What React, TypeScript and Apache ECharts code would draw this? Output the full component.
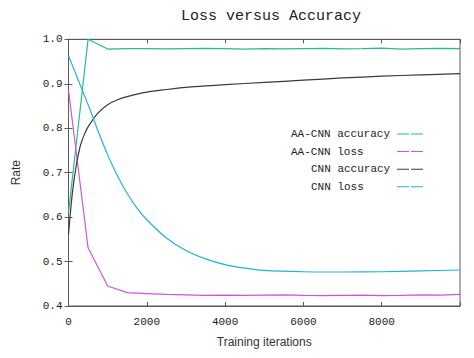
import React, { useEffect, useRef } from "react";
import * as echarts from "echarts";

const titleText = "Loss versus Accuracy";
const seriesNames = ["AA-CNN accuracy", "AA-CNN loss", "CNN accuracy", "CNN loss"];

const aaIters = [0, 500, 1000, 1500, 2000, 2500, 3000, 3500, 4000, 4500, 5000, 5500, 6000, 6500, 7000, 7500, 8000, 8500, 9000, 9500, 10000];
const aaAccuracy = [0.61, 1.0, 0.978, 0.979, 0.979, 0.9785, 0.979, 0.9795, 0.979, 0.978, 0.979, 0.9785, 0.979, 0.9795, 0.9785, 0.979, 0.98, 0.978, 0.979, 0.9795, 0.979];
const aaLoss = [0.886, 0.531, 0.445, 0.43, 0.428, 0.426, 0.425, 0.424, 0.4245, 0.424, 0.4245, 0.425, 0.424, 0.4235, 0.424, 0.4245, 0.4235, 0.424, 0.425, 0.4245, 0.426];

const cnnAccIters = [0, 100, 200, 300, 400, 500, 750, 1000, 1250, 1500, 2000, 2500, 3000, 3500, 4000, 5000, 6000, 7000, 8000, 9000, 10000];
const cnnAccuracy = [0.561, 0.655, 0.717, 0.76, 0.785, 0.803, 0.834, 0.853, 0.864, 0.871, 0.881, 0.887, 0.892, 0.895, 0.898, 0.903, 0.908, 0.913, 0.917, 0.92, 0.923];

const cnnLossIters = [0, 250, 500, 750, 1000, 1250, 1500, 1750, 2000, 2500, 3000, 3500, 4000, 4500, 5000, 6000, 7000, 8000, 9000, 10000];
const cnnLoss = [0.963, 0.908, 0.853, 0.795, 0.74, 0.693, 0.653, 0.62, 0.594, 0.553, 0.525, 0.506, 0.493, 0.485, 0.48, 0.477, 0.4765, 0.477, 0.479, 0.481];

const xTicks = { min: 0, max: 10000, interval: 2000 };
const yTicks = { min: 0.4, max: 1.0, interval: 0.1 };

const colors = ["#26b99a", "#cc55dd", "#3a3a3a", "#1fb4d8"];

const zip = (xs: number[], ys: number[]) => xs.map((x, i) => [x, ys[i]]);

export default function App() {
  const ref = useRef<HTMLDivElement>(null);
  useEffect(() => {
    if (!ref.current) return;
    const chart = echarts.init(ref.current, undefined, { renderer: "svg" });
    const mono = "Liberation Mono";
    const frame = "#5a5a5a";
    const tickStyle = { show: true, inside: true, length: 4, lineStyle: { color: frame, width: 1 } };
    const legendIcon = "path://M0,0H12V1H0Z M14,0H26V1H14Z";
    const series = [
      { data: zip(aaIters, aaAccuracy) },
      { data: zip(aaIters, aaLoss) },
      { data: zip(cnnAccIters, cnnAccuracy) },
      { data: zip(cnnLossIters, cnnLoss) },
    ].map((s, i) => ({
      type: "line",
      name: seriesNames[i],
      data: s.data,
      showSymbol: false,
      symbol: "none",
      smooth: i >= 2 ? 0.3 : false,
      lineStyle: { color: colors[i], width: 1.2 },
      itemStyle: { color: colors[i] },
      xAxisIndex: 0,
      yAxisIndex: 0,
    }));
    const legendText = { fontFamily: mono, fontSize: 11, color: "#222", height: 14, lineHeight: 14, align: "left" };
    chart.setOption({
      animation: false,
      backgroundColor: "#ffffff",
      title: {
        text: titleText,
        left: 181,
        top: 9,
        padding: 0,
        textStyle: { fontFamily: mono, fontSize: 15, fontWeight: "normal", color: "#222" },
      },
      legend: {
        orient: "vertical",
        align: "right",
        right: 51,
        top: 127,
        padding: 0,
        itemGap: 3.6,
        itemWidth: 26,
        itemHeight: 2,
        icon: legendIcon,
        data: seriesNames.map((n) => ({ name: n, icon: legendIcon })),
        formatter: (name: string) =>
          name.startsWith("AA-") ? `{a|${name}}` : `{s| }{c|${name}}`,
        textStyle: {
          ...legendText,
          rich: {
            a: { ...legendText, width: 101 },
            s: { ...legendText, width: 20 },
            c: { ...legendText, width: 81 },
          },
        },
      },
      grid: {
        left: 68.5,
        right: 14,
        top: 39.3,
        bottom: 52,
        show: true,
        borderColor: frame,
        borderWidth: 1,
        backgroundColor: "transparent",
      },
      xAxis: [
        {
          type: "value",
          ...xTicks,
          position: "bottom",
          name: "Training iterations",
          nameLocation: "middle",
          nameGap: 30,
          nameTextStyle: { fontFamily: "Liberation Sans", fontSize: 12, color: "#333" },
          axisLine: { show: true, lineStyle: { color: frame } },
          axisTick: tickStyle,
          axisLabel: {
            fontFamily: mono,
            fontSize: 11,
            color: "#222",
            margin: 10,
            formatter: (v: number) => (v >= xTicks.max ? "" : String(v)),
          },
          splitLine: { show: false },
        },
        {
          type: "value",
          ...xTicks,
          position: "top",
          axisLine: { show: true, lineStyle: { color: frame } },
          axisTick: tickStyle,
          axisLabel: { show: false },
          splitLine: { show: false },
        },
      ],
      yAxis: [
        {
          type: "value",
          ...yTicks,
          position: "left",
          name: "Rate",
          nameLocation: "middle",
          nameGap: 47,
          nameRotate: 90,
          nameTextStyle: { fontFamily: "Liberation Sans", fontSize: 12, color: "#333" },
          axisLine: { show: true, lineStyle: { color: frame } },
          axisTick: tickStyle,
          axisLabel: {
            fontFamily: mono,
            fontSize: 11,
            color: "#222",
            margin: 6,
            formatter: (v: number) => v.toFixed(1),
          },
          splitLine: { show: false },
        },
        {
          type: "value",
          ...yTicks,
          position: "right",
          axisLine: { show: true, lineStyle: { color: frame } },
          axisTick: tickStyle,
          axisLabel: { show: false },
          splitLine: { show: false },
        },
      ],
      series,
    });
    return () => chart.dispose();
  }, []);
  return <div ref={ref} style={{ width: 474, height: 358, position: "absolute", left: 0, top: 0 }} />;
}
